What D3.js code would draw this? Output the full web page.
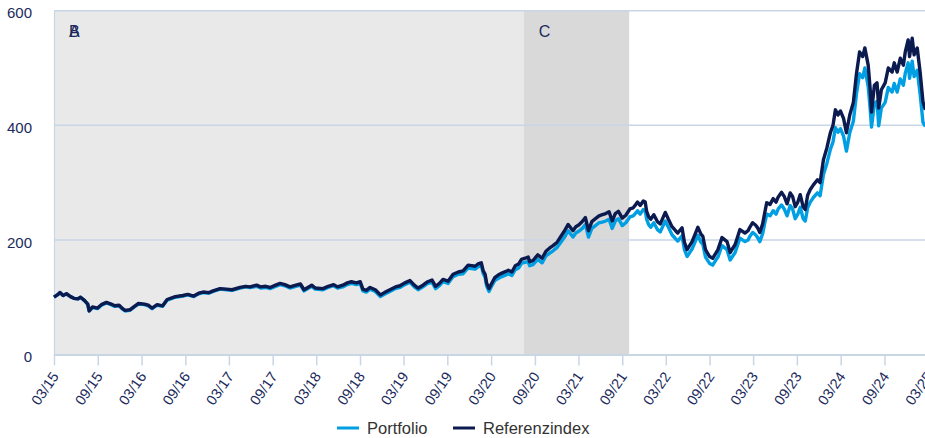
<!DOCTYPE html>
<html>
<head>
<meta charset="utf-8">
<script src="https://cdn.jsdelivr.net/npm/d3@7"></script>
<style>
  html, body { margin: 0; padding: 0; background: #ffffff; }
  svg { display: block; font-family: Arial, "Liberation Sans", Helvetica, sans-serif; }
</style>
</head>
<body>
<svg id="chart" width="925" height="438"></svg>
<script>
// Observation dates of the two performance series (indexed, start = 100)
const dates = [
  "2015-03-31","2015-04-14","2015-04-25","2015-05-08","2015-05-22","2015-06-08","2015-06-22","2015-07-08",
  "2015-07-20","2015-08-06","2015-08-19","2015-08-25","2015-09-08","2015-09-29","2015-10-15","2015-11-05",
  "2015-11-25","2015-12-10","2015-12-28","2016-01-12","2016-01-22","2016-02-11","2016-03-01","2016-03-18",
  "2016-04-12","2016-04-28","2016-05-14","2016-06-04","2016-06-27","2016-07-16","2016-08-19","2016-09-20",
  "2016-10-10","2016-11-04","2016-11-25","2016-12-13","2017-01-06","2017-01-24","2017-02-22","2017-03-20",
  "2017-04-13","2017-05-17","2017-06-09","2017-06-27","2017-07-25","2017-08-10","2017-09-01","2017-09-19",
  "2017-10-12","2017-10-31","2017-11-20","2017-12-11","2018-01-05","2018-01-24","2018-02-08","2018-03-12",
  "2018-03-27","2018-04-28","2018-05-20","2018-06-12","2018-06-28","2018-07-20","2018-08-08","2018-08-25",
  "2018-09-15","2018-10-01","2018-10-12","2018-10-26","2018-11-11","2018-12-03","2018-12-24","2019-01-10",
  "2019-02-02","2019-02-25","2019-03-16","2019-04-05","2019-04-27","2019-05-15","2019-05-31","2019-06-20",
  "2019-07-10","2019-07-28","2019-08-12","2019-08-28","2019-09-12","2019-10-03","2019-10-24","2019-11-15",
  "2019-12-05","2019-12-26","2020-01-10","2020-01-24","2020-02-05","2020-02-19","2020-02-27","2020-03-06",
  "2020-03-12","2020-03-22","2020-04-02","2020-04-15","2020-05-01","2020-05-15","2020-06-01","2020-06-11",
  "2020-06-26","2020-07-10","2020-07-24","2020-08-05","2020-08-20","2020-09-02","2020-09-08","2020-09-22",
  "2020-10-12","2020-10-30","2020-11-15","2020-12-01","2020-12-15","2021-01-01","2021-01-15","2021-02-01",
  "2021-02-16","2021-03-08","2021-03-20","2021-04-01","2021-04-16","2021-04-29","2021-05-12","2021-05-26",
  "2021-06-10","2021-06-25","2021-07-09","2021-07-23","2021-08-06","2021-08-19","2021-09-01","2021-09-14",
  "2021-09-30","2021-10-15","2021-11-01","2021-11-15","2021-11-26","2021-12-03","2021-12-14","2021-12-27",
  "2022-01-04","2022-01-10","2022-01-18","2022-01-27","2022-02-09","2022-02-24","2022-03-08","2022-03-29",
  "2022-04-11","2022-04-26","2022-05-11","2022-05-20","2022-06-07","2022-06-17","2022-06-28","2022-07-19",
  "2022-08-12","2022-08-25","2022-09-02","2022-09-13","2022-09-30","2022-10-13","2022-10-25","2022-11-04",
  "2022-11-21","2022-12-12","2022-12-25","2023-01-15","2023-02-04","2023-02-25","2023-03-10","2023-03-17",
  "2023-03-29","2023-04-10","2023-04-19","2023-04-28","2023-05-10","2023-05-18","2023-05-27","2023-06-10",
  "2023-06-23","2023-07-05","2023-07-14","2023-07-28","2023-08-08","2023-08-20","2023-09-02","2023-09-12",
  "2023-09-23","2023-10-04","2023-10-14","2023-10-26","2023-11-04","2023-11-14","2023-11-25","2023-12-08",
  "2023-12-25","2024-01-05","2024-01-19","2024-02-02","2024-02-17","2024-02-28","2024-03-09","2024-03-20",
  "2024-03-30","2024-04-12","2024-04-24","2024-05-08","2024-05-23","2024-06-05","2024-06-18","2024-07-01",
  "2024-07-10","2024-07-24","2024-08-01","2024-08-07","2024-08-19","2024-08-30","2024-09-06","2024-09-17",
  "2024-10-03","2024-10-16","2024-11-01","2024-11-10","2024-11-22","2024-12-05","2024-12-18","2024-12-26",
  "2025-01-07","2025-01-13","2025-01-24","2025-02-01","2025-02-14","2025-02-26","2025-03-10","2025-03-20"
];

const referenzindex = [
  100,104,108,103,106,101,98,97,
  100,94,88,76,83,81,87,91,
  88,85,86,80,77,78,84,89,
  88,86,81,87,85,96,101,103,
  105,102,107,109,108,111,115,114,
  113,117,119,118,121,118,119,117,
  121,124,122,118,121,123,113,121,
  116,115,119,122,118,121,125,127,
  125,127,114,112,117,113,104,108,
  113,118,120,125,129,121,116,121,
  127,130,119,124,131,128,140,144,
  146,156,155,154,158,160,146,140,
  125,115,124,134,139,142,145,147,
  144,155,158,166,168,170,162,164,
  174,168,180,186,190,196,205,216,
  227,216,223,226,232,239,216,232,
  237,242,244,246,249,233,246,250,
  238,243,254,256,262,266,260,268,
  266,250,241,236,244,232,228,248,
  236,223,216,212,221,196,183,197,
  222,210,206,183,171,168,176,183,
  204,197,178,192,218,212,216,222,
  230,226,221,213,228,246,265,262,
  272,266,275,283,276,263,282,276,
  258,266,279,258,253,278,288,296,
  305,300,340,360,387,400,427,418,
  425,412,387,418,440,490,528,520,
  535,505,465,423,470,474,430,462,
  474,500,493,509,493,517,505,528,
  549,520,552,523,535,493,441,427
];

const portfolio = [
  100,104,108,103,106,101,98,97,
  100,94,88,76,82,80,86,90,
  87,84,85,79,76,77,83,88,
  87,85,80,86,84,95,100,102,
  104,101,106,108,107,110,114,113,
  112,116,118,117,119,116,117,115,
  119,122,120,116,119,121,111,119,
  114,113,117,120,116,118,122,124,
  122,124,111,109,114,110,101,105,
  110,115,117,122,126,118,113,118,
  124,126,115,120,127,124,136,140,
  141,151,150,149,153,155,141,135,
  120,110,119,129,133,136,139,141,
  138,148,151,159,161,162,155,157,
  166,160,172,177,181,187,195,205,
  216,205,212,215,220,227,205,220,
  225,230,231,233,236,220,233,237,
  225,230,240,242,247,251,245,253,
  251,236,227,222,230,218,214,233,
  222,209,202,198,207,183,171,184,
  208,196,192,170,159,156,164,170,
  190,183,165,178,203,197,200,206,
  213,209,204,197,211,228,245,242,
  251,245,254,261,254,242,260,254,
  237,245,257,237,233,256,266,274,
  282,277,314,333,358,371,396,388,
  394,381,355,387,407,455,490,483,
  500,468,430,397,438,442,399,430,
  440,466,458,473,458,481,470,491,
  509,482,512,485,496,455,405,398
];

// Half-yearly axis ticks (month-end dates)
const tickLabels = [
  "03/15","09/15","03/16","09/16","03/17","09/17","03/18","09/18","03/19","09/19","03/20",
  "09/20","03/21","09/21","03/22","09/22","03/23","09/23","03/24","09/24","03/25"
];
const yTicks = [0, 200, 400, 600];

// Shaded phases (A and B reach back before the first observation)
const phaseNames  = ["A", "B", "C"];
const phaseStarts = ["2012-01-02", "2014-06-02", "2020-08-14"];
const phaseEnds   = ["2017-12-29", "2020-08-14", "2021-10-29"];
const phaseFills  = ["#e9e9e9", "#e9e9e9", "#d9d9d9"];

const seriesNames  = ["Portfolio", "Referenzindex"];
const seriesColors = ["#009fe3", "#0b1a4f"];

const parseDate = d3.timeParse("%Y-%m-%d");
const parseTick = d3.timeParse("%m/%y");
const monthEnd = d => d3.timeDay.offset(d3.timeMonth.offset(d, 1), -1);

const tickDates = tickLabels.map(t => monthEnd(parseTick(t)));
const dateObjs = dates.map(parseDate);

const svg = d3.select("#chart");
const axisColor = "#c9d6e5";
const textColor = "#1b2a5c";

const left = 54, plotTop = 10.7, plotBottom = 354.5;
const x = d3.scaleTime()
  .domain([tickDates[0], tickDates[tickDates.length - 1]])
  .range([left, 928]);
const y = d3.scaleLinear().domain([0, 600]).range([plotBottom, plotTop]);

// Phase shading
const phaseG = svg.append("g");
phaseNames.forEach((name, i) => {
  const x0 = Math.max(x(parseDate(phaseStarts[i])), left);
  const x1 = x(parseDate(phaseEnds[i]));
  phaseG.append("rect")
    .attr("x", x0).attr("y", plotTop)
    .attr("width", x1 - x0).attr("height", plotBottom - plotTop)
    .attr("fill", phaseFills[i]);
});
phaseNames.forEach((name, i) => {
  const x0 = Math.max(x(parseDate(phaseStarts[i])), left);
  phaseG.append("text")
    .attr("x", x0 + 15).attr("y", 36.5)
    .attr("font-size", 16).attr("fill", textColor)
    .text(name);
});

// Horizontal grid
svg.append("g").selectAll("line")
  .data(yTicks.filter(v => v > 0))
  .join("line")
  .attr("x1", left).attr("x2", 925)
  .attr("y1", d => y(d)).attr("y2", d => y(d))
  .attr("stroke", axisColor).attr("stroke-width", 1.5);

// Y axis
const yAxis = svg.append("g")
  .attr("transform", `translate(${left},0)`)
  .call(d3.axisLeft(y).tickValues(yTicks).tickSize(0).tickPadding(22));
yAxis.select(".domain").attr("stroke", axisColor).attr("stroke-width", 1.2);
yAxis.selectAll("text")
  .attr("font-size", 15).attr("fill", textColor)
  .attr("font-family", "Arial, 'Liberation Sans', sans-serif")
  .attr("dy", "0.48em");

// X axis
const xAxis = svg.append("g")
  .attr("transform", `translate(0,${plotBottom})`)
  .call(d3.axisBottom(x).tickValues(tickDates).tickFormat((d, i) => tickLabels[i]).tickSize(11).tickSizeOuter(0));
xAxis.select(".domain").attr("stroke", axisColor).attr("stroke-width", 2.2);
xAxis.selectAll(".tick line").attr("stroke", axisColor).attr("stroke-width", 1.5);
xAxis.selectAll("text")
  .attr("font-size", 14.5).attr("fill", textColor)
  .attr("font-family", "Arial, 'Liberation Sans', sans-serif")
  .attr("text-anchor", "end")
  .attr("y", null).attr("dy", null)
  .attr("transform", "translate(5,22) rotate(-55)");

// Series lines
const lineGen = values => d3.line()
  .x((d, i) => x(dateObjs[i]))
  .y(d => y(d))(values);

[portfolio, referenzindex].forEach((vals, i) => {
  svg.append("path")
    .attr("d", lineGen(vals))
    .attr("fill", "none")
    .attr("stroke", seriesColors[i])
    .attr("stroke-width", 3.4)
    .attr("stroke-linejoin", "round");
});

// Legend
const legend = svg.append("g").attr("font-size", 16.5).attr("fill", "#333333");
const legendX = [337, 453];
seriesNames.forEach((name, i) => {
  legend.append("line")
    .attr("x1", legendX[i]).attr("x2", legendX[i] + 22)
    .attr("y1", 428).attr("y2", 428)
    .attr("stroke", seriesColors[i]).attr("stroke-width", 3);
  legend.append("text")
    .attr("x", legendX[i] + 30).attr("y", 433.5)
    .text(name);
});
</script>
</body>
</html>
